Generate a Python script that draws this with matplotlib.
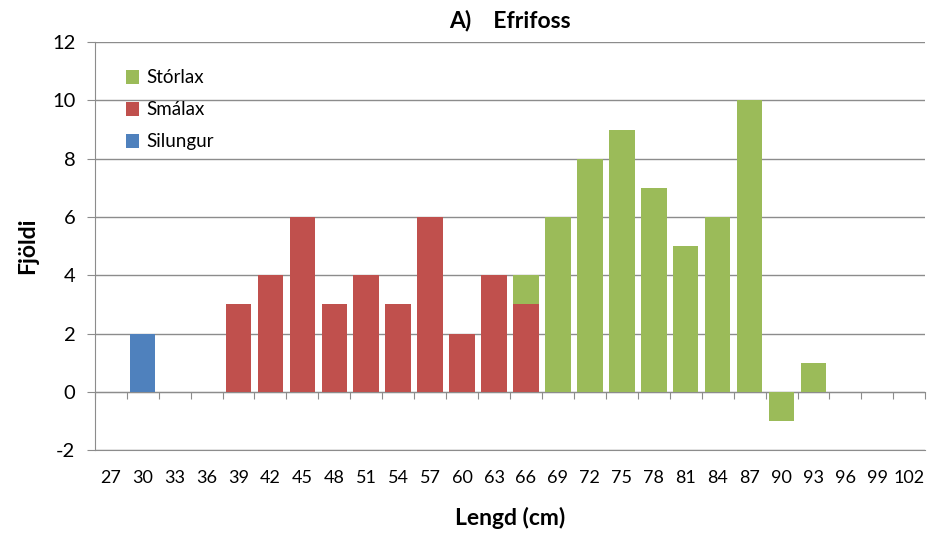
import matplotlib.pyplot as plt
import numpy as np

plt.rcParams['font.family'] = ['Lato', 'DejaVu Sans']
plt.rcParams['axes.unicode_minus'] = False

lengd = [27, 30, 33, 36, 39, 42, 45, 48, 51, 54, 57, 60, 63,
         66, 69, 72, 75, 78, 81, 84, 87, 90, 93, 96, 99, 102]
silungur = [0, 2, 0, 0, 0, 0, 0, 0, 0, 0, 0, 0, 0,
            0, 0, 0, 0, 0, 0, 0, 0, 0, 0, 0, 0, 0]
smalax = [0, 0, 0, 0, 3, 4, 6, 3, 4, 3, 6, 2, 4,
          3, 0, 0, 0, 0, 0, 0, 0, 0, 0, 0, 0, 0]
storlax = [0, 0, 0, 0, 0, 0, 0, 0, 0, 0, 0, 0, 0,
           1, 6, 8, 9, 7, 5, 6, 10, -1, 1, 0, 0, 0]

x = np.arange(len(lengd))
grey = '#8c8c8c'

fig = plt.figure(figsize=(9.29, 5.34), dpi=100)
ax = fig.add_axes([0.102, 0.157, 0.894, 0.764])

w = 0.8
ax.bar(x, silungur, w, color='#4F81BD', label='Silungur', zorder=3)
ax.bar(x, smalax, w, bottom=silungur, color='#C0504D', label='Smálax', zorder=3)
bottom = np.array(silungur) + np.array(smalax)
ax.bar(x, storlax, w, bottom=bottom, color='#9BBB59', label='Stórlax', zorder=3)

ax.set_xlim(-0.5, len(lengd) - 0.5)
ax.set_ylim(-2, 12)
ax.set_yticks(range(-2, 13, 2))
ax.yaxis.grid(True, color=grey, linewidth=1, zorder=0)
ax.set_axisbelow(True)

ax.set_xticks(x)
ax.set_xticklabels([str(v) for v in lengd])
ax.tick_params(axis='x', length=0, labelsize=13, pad=14)
ax.tick_params(axis='y', direction='out', length=6, color=grey, labelsize=14.5, pad=8)

for s in ['top', 'right']:
    ax.spines[s].set_visible(False)
ax.spines['left'].set_color(grey)
ax.spines['bottom'].set_color(grey)

# flokkaás sker við 0
sec = ax.secondary_xaxis(2 / 14)
sec.set_xticks(np.arange(-0.5, len(lengd), 1))
sec.set_xticklabels([])
sec.tick_params(direction='out', length=5, color=grey)
sec.spines['bottom'].set_color(grey)

ax.set_title('A)    Efrifoss', fontsize=16.5, fontweight='bold', pad=11)
ax.set_ylabel('Fjöldi', fontsize=16.5, fontweight='bold', labelpad=10)
ax.set_xlabel('Lengd (cm)', fontsize=16.5, fontweight='bold', labelpad=15)

h, l = ax.get_legend_handles_labels()
ax.legend(h[::-1], l[::-1], loc='upper left', bbox_to_anchor=(0.017, 0.975),
          frameon=False, fontsize=13.5, handlelength=0.7, handleheight=0.8,
          labelspacing=0.8, handletextpad=0.4)

fig.savefig('out.png', dpi=100)
